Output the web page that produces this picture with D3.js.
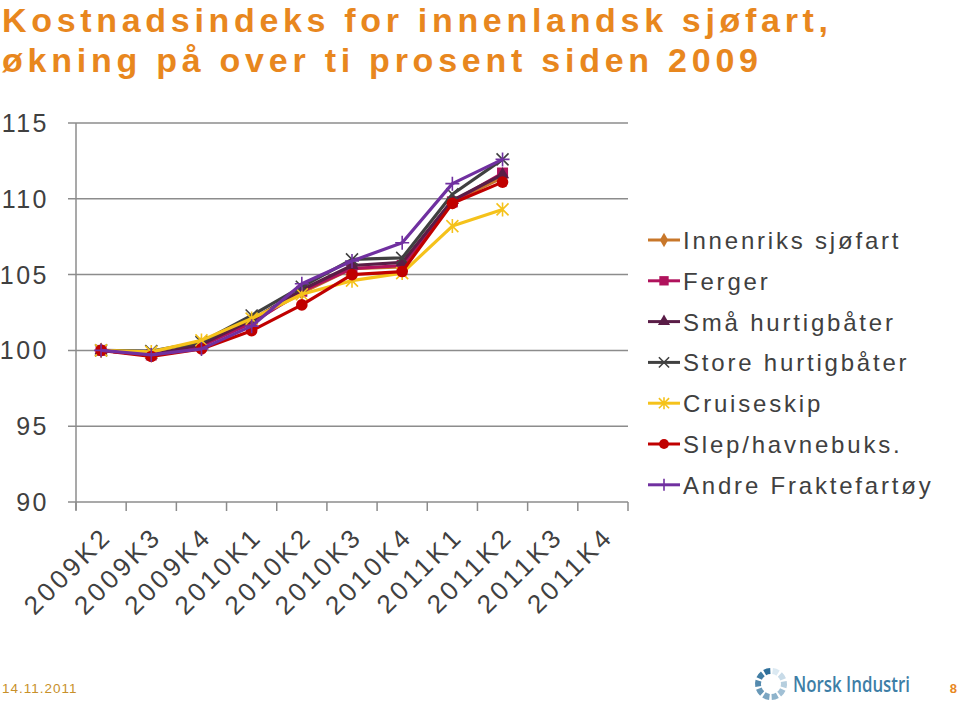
<!DOCTYPE html>
<html><head><meta charset="utf-8">
<script src="https://cdn.jsdelivr.net/npm/d3@7"></script>
<style>
body{margin:0;background:#fff;}
svg{display:block;font-family:"Liberation Sans",Arial,sans-serif;}
</style></head>
<body><svg id="c" width="960" height="710"></svg>
<script>
const titleLines = ["Kostnadsindeks for innenlandsk sjøfart,", "økning på over ti prosent siden 2009"];
const categories = ["2009K2","2009K3","2009K4","2010K1","2010K2","2010K3","2010K4","2011K1","2011K2","2011K3","2011K4"];
const yTicks = [90,95,100,105,110,115];
const seriesNames = ["Innenriks sjøfart","Ferger","Små hurtigbåter","Store hurtigbåter","Cruiseskip","Slep/havnebuks.","Andre Fraktefartøy"];
const innenriks = [100, 99.7, 100.4, 101.9, 103.8, 105.4, 105.5, 109.8, 111.4, null, null];
const ferger    = [100, 99.7, 100.3, 101.8, 103.9, 105.4, 105.6, 109.8, 111.7, null, null];
const smaa      = [100, 99.7, 100.4, 102.0, 104.0, 105.6, 105.8, 109.9, 111.6, null, null];
const store     = [100, 99.95, 100.55, 102.3, 104.2, 106.0, 106.1, 110.3, 112.6, null, null];
const cruise    = [100, 99.9, 100.66, 102.1, 103.7, 104.6, 105.1, 108.2, 109.3, null, null];
const slep      = [100, 99.6, 100.1, 101.3, 103.0, 105.0, 105.2, 109.7, 111.1, null, null];
const andre     = [100, 99.7, 100.1, 101.6, 104.4, 105.9, 107.1, 111.0, 112.6, null, null];
const seriesValues = [innenriks, ferger, smaa, store, cruise, slep, andre];
const colors = ["#c8772a","#b0125c","#5a1d47","#404040","#f5c21b","#c00000","#7030a0"];
const markers = ["diamond","square","triangle","x","star","circle","plus"];
const footerDate = "14.11.2011";
const pageNo = "8";

const svg = d3.select("#c");
const L = 76, R = 628, T = 123, B = 502;
const x = d3.scaleBand().domain(categories).range([L, R]);
const y = d3.scaleLinear().domain([90,115]).range([B, T]);

// title
const titleWidths = [826, 756];
svg.append("g").selectAll("text").data(titleLines).join("text")
  .attr("x", 2).attr("y", (d,i)=>32 + i*40)
  .attr("fill","#e8871e").attr("font-weight","bold").attr("font-size",34)
  .attr("textLength",(d,i)=>titleWidths[i]).attr("lengthAdjust","spacing")
  .text(d=>d);

// gridlines
svg.append("g").selectAll("line").data(yTicks).join("line")
  .attr("x1", L-8).attr("x2", R).attr("y1", d=>y(d)).attr("y2", d=>y(d))
  .attr("stroke","#8c8c8c").attr("stroke-width",1.5);

// y axis
svg.append("line").attr("x1",L).attr("x2",L).attr("y1",T).attr("y2",B+8)
  .attr("stroke","#8c8c8c").attr("stroke-width",1.5);
svg.append("g").selectAll("text").data(yTicks).join("text")
  .attr("x", 49).attr("y", d=>y(d)+9).attr("text-anchor","end")
  .attr("font-size",25).attr("letter-spacing",2.5).attr("fill","#404040").text(d=>d);

// x ticks
const xt = categories.map(c=>x(c)).concat([R]);
svg.append("g").selectAll("line").data(xt).join("line")
  .attr("x1",d=>d).attr("x2",d=>d).attr("y1",B).attr("y2",B+9)
  .attr("stroke","#8c8c8c").attr("stroke-width",1.5);
svg.append("g").selectAll("text").data(categories).join("text")
  .attr("transform", d=>`translate(${x(d)+x.bandwidth()/2+12},${B+36}) rotate(-45)`)
  .attr("text-anchor","end").attr("font-size",26).attr("letter-spacing",3.5)
  .attr("fill","#404040").text(d=>d);

// marker drawing
function drawMarker(g, type, color, s){
  s = s || 1;
  if(type==="diamond") g.append("path").attr("d", d3.symbol(d3.symbolDiamond, 70*s)()).attr("fill",color);
  else if(type==="square") g.append("rect").attr("x",-5.5*s).attr("y",-5.5*s).attr("width",11*s).attr("height",11*s).attr("fill",color);
  else if(type==="triangle") g.append("path").attr("d", d3.symbol(d3.symbolTriangle, 75*s)()).attr("fill",color);
  else if(type==="circle") g.append("circle").attr("r",5.8*s).attr("fill",color);
  else if(type==="x") g.append("path").attr("d", `M${-6*s},${-6*s}L${6*s},${6*s}M${-6*s},${6*s}L${6*s},${-6*s}`).attr("stroke",color).attr("stroke-width",1.6);
  else if(type==="star") g.append("path").attr("d", `M${-6*s},${-6*s}L${6*s},${6*s}M${-6*s},${6*s}L${6*s},${-6*s}M0,${-7*s}L0,${7*s}`).attr("stroke",color).attr("stroke-width",1.6);
  else if(type==="plus") g.append("path").attr("d", `M${-7*s},0L${7*s},0M0,${-7*s}L0,${7*s}`).attr("stroke",color).attr("stroke-width",1.6);
}

const line = d3.line().defined(d=>d.v!=null).x(d=>x(d.c)+x.bandwidth()/2).y(d=>y(d.v));
seriesValues.forEach((vals,i)=>{
  const pts = categories.map((c,j)=>({c, v: vals[j]}));
  svg.append("path").datum(pts).attr("d", line).attr("fill","none")
    .attr("stroke", colors[i]).attr("stroke-width",3.2).attr("stroke-linejoin","round");
  pts.filter(p=>p.v!=null).forEach(p=>{
    const g = svg.append("g").attr("transform",`translate(${x(p.c)+x.bandwidth()/2},${y(p.v)})`);
    drawMarker(g, markers[i], colors[i], 1);
  });
});

// legend
const lg = svg.append("g");
seriesNames.forEach((n,i)=>{
  const cy = 240 + i*40.8;
  lg.append("line").attr("x1",648).attr("x2",680).attr("y1",cy).attr("y2",cy)
    .attr("stroke",colors[i]).attr("stroke-width",3);
  const g = lg.append("g").attr("transform",`translate(664,${cy})`);
  drawMarker(g, markers[i], colors[i], 0.85);
  lg.append("text").attr("x",683).attr("y",cy+9).attr("font-size",24)
    .attr("letter-spacing",2.8).attr("fill","#404040").text(n);
});

// footer
svg.append("text").attr("x",2).attr("y",693).attr("font-size",13.5).attr("letter-spacing",1)
  .attr("fill","#c8902a").text(footerDate);
svg.append("text").attr("x",957).attr("y",693).attr("text-anchor","end").attr("font-size",13)
  .attr("font-weight","bold").attr("fill","#e8871e").text(pageNo);
// logo ring
const logo = svg.append("g").attr("transform","translate(771,684)");
const segs = d3.range(10);
const arc = d3.arc().innerRadius(10).outerRadius(16);
logo.selectAll("path").data(segs).join("path")
  .attr("d", i=>arc({startAngle: i*Math.PI*2/10 + 0.12, endAngle: (i+1)*Math.PI*2/10 - 0.05}))
  .attr("fill", i=> d3.interpolateRgb("#dbe9f2","#2e6f9a")(i/9));
svg.append("text").attr("x",793).attr("y",692).attr("font-size",21)
  .attr("font-family","'Open Sans',sans-serif").attr("font-weight","600")
  .attr("textLength",117).attr("lengthAdjust","spacingAndGlyphs")
  .attr("fill","#3d7ea6").text("Norsk Industri");
</script></body></html>
